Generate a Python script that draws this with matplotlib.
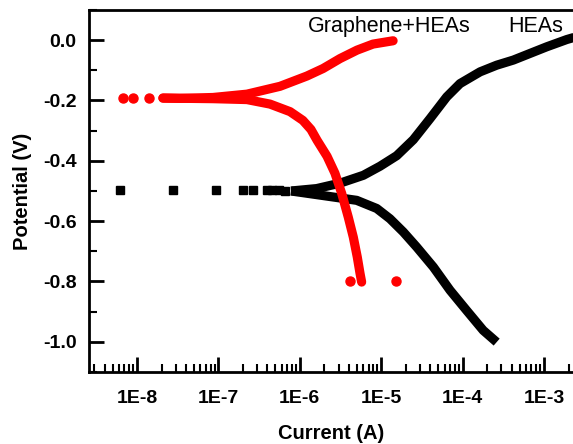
import numpy as np
import matplotlib.pyplot as plt
from matplotlib.ticker import LogLocator, FixedLocator, MultipleLocator, FuncFormatter

plt.rcParams['font.family'] = ['Liberation Sans', 'DejaVu Sans']

# HEAs (black) - current (A), potential (V)
heas_anodic_i = [7.8e-7, 1.61e-6, 3.12e-6, 6.03e-6, 9.66e-6, 1.55e-5, 2.48e-5, 3.98e-5, 6.38e-5, 9.29e-5,
                 1.64e-4, 2.62e-4, 4.20e-4, 6.73e-4, 1.08e-3, 1.90e-3, 2.40e-3]
heas_anodic_v = [-0.500, -0.492, -0.474, -0.448, -0.418, -0.383, -0.330, -0.260, -0.188, -0.144,
                 -0.105, -0.083, -0.066, -0.044, -0.022, 0.002, 0.010]
heas_cath_i = [7.8e-7, 2.58e-6, 5.00e-6, 8.81e-6, 1.28e-5, 1.87e-5, 2.73e-5, 4.37e-5, 7.00e-5, 1.12e-4,
               1.79e-4, 2.62e-4]
heas_cath_v = [-0.500, -0.520, -0.531, -0.558, -0.592, -0.636, -0.686, -0.752, -0.829, -0.896,
               -0.962, -1.001]
heas_sparse_i = [6.2e-9, 2.77e-8, 9.35e-8, 2.0e-7, 2.66e-7, 3.95e-7, 4.6e-7, 5.6e-7, 6.6e-7]
heas_sparse_v = [-0.497, -0.497, -0.497, -0.497, -0.497, -0.497, -0.497, -0.498, -0.499]

# Graphene+HEAs (red)
gr_anodic_i = [2.08e-8, 3.37e-8, 8.59e-8, 2.24e-7, 5.71e-7, 1.22e-6, 1.93e-6, 3.12e-6, 5.05e-6, 7.93e-6, 1.40e-5]
gr_anodic_v = [-0.192, -0.193, -0.190, -0.179, -0.153, -0.119, -0.094, -0.061, -0.033, -0.013, -0.002]
gr_cath_i = [2.08e-8, 8.59e-8, 2.24e-7, 4.31e-7, 7.59e-7, 1.09e-6, 1.37e-6, 1.63e-6, 2.16e-6, 2.70e-6,
             3.27e-6, 3.94e-6, 4.54e-6, 5.08e-6, 5.49e-6, 5.75e-6]
gr_cath_v = [-0.192, -0.194, -0.197, -0.212, -0.237, -0.266, -0.296, -0.332, -0.385, -0.441,
             -0.508, -0.587, -0.653, -0.719, -0.773, -0.802]
gr_sparse_i = [6.73e-9, 8.93e-9, 1.40e-8, 4.14e-6, 1.52e-5]
gr_sparse_v = [-0.192, -0.192, -0.192, -0.797, -0.797]

fig = plt.figure(figsize=(5.73, 4.44), dpi=100)
ax = fig.add_axes([0.1553, 0.1622, 0.8447, 0.8153])

lw = 6.6
ax.plot(heas_anodic_i, heas_anodic_v, color='black', lw=lw, solid_capstyle='butt', solid_joinstyle='round')
ax.plot(heas_cath_i, heas_cath_v, color='black', lw=lw, solid_capstyle='butt', solid_joinstyle='round')
ax.plot(heas_sparse_i, heas_sparse_v, 's', color='black', ms=5.5, mec='black')

ax.plot(gr_anodic_i, gr_anodic_v, color='red', lw=lw, solid_capstyle='round', solid_joinstyle='round')
ax.plot(gr_cath_i, gr_cath_v, color='red', lw=lw, solid_capstyle='round', solid_joinstyle='round')
ax.plot(gr_sparse_i, gr_sparse_v, 'o', color='red', ms=6.5, mec='red')

ax.set_xscale('log')
ax.set_xlim(10 ** -8.59, 10 ** -2.644)
ax.set_ylim(-1.1, 0.1)

ax.xaxis.set_major_locator(FixedLocator([1e-8, 1e-7, 1e-6, 1e-5, 1e-4, 1e-3]))
ax.xaxis.set_minor_locator(LogLocator(base=10, subs=np.arange(2, 10), numticks=20))
ax.xaxis.set_major_formatter(FuncFormatter(lambda v, p: '1E%d' % round(np.log10(v))))
ax.yaxis.set_major_locator(MultipleLocator(0.2))
ax.yaxis.set_minor_locator(MultipleLocator(0.1))
ax.yaxis.set_major_formatter(FuncFormatter(lambda v, p: '%.1f' % v))

ax.tick_params(which='major', direction='in', length=11, width=2, labelsize=14, pad=9)
ax.tick_params(which='minor', direction='in', length=6, width=1.5)
ax.tick_params(axis='x', which='major', pad=13)
ax.tick_params(top=False, right=False, which='both')
for lab in ax.get_xticklabels() + ax.get_yticklabels():
    lab.set_fontweight('bold')

for s in ['left', 'bottom', 'top']:
    ax.spines[s].set_linewidth(2)
ax.spines['right'].set_visible(False)

ax.set_xlabel('Current (A)', fontsize=14.5, fontweight='bold', labelpad=12)
ax.set_ylabel('Potential (V)', fontsize=14.5, fontweight='bold', labelpad=8)

ax.text(1.26e-6, 0.046, 'Graphene+HEAs', fontsize=15.5, ha='left', va='center')
ax.text(1.7e-3, 0.046, 'HEAs', fontsize=15.5, ha='right', va='center')

fig.savefig('out.png', dpi=100)
